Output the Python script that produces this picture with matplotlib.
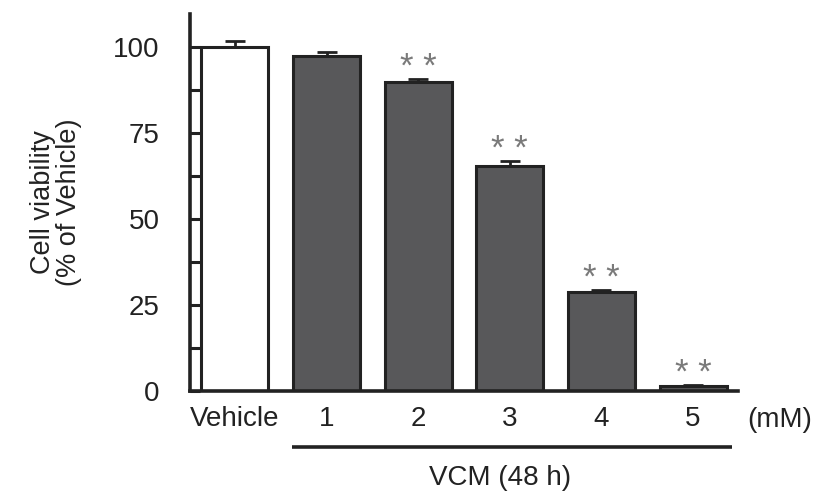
import matplotlib
matplotlib.use('Agg')
import matplotlib.pyplot as plt
from matplotlib.ticker import MultipleLocator

plt.rcParams['font.family'] = ['Liberation Sans', 'DejaVu Sans']

groups = ['Vehicle', '1', '2', '3', '4', '5']
viability = [100.0, 97.4, 89.9, 65.5, 28.9, 1.5]
sem = [1.6, 1.1, 0.9, 1.4, 0.5, 0.3]
significant = [False, False, True, True, True, True]
bar_colors = ['white', '#58585a', '#58585a', '#58585a', '#58585a', '#58585a']

fig = plt.figure(figsize=(8.24, 4.94), dpi=100)
ax = fig.add_axes([0.2306, 0.2085, 0.665, 0.7632])

x = list(range(len(groups)))
ax.bar(x, viability, width=0.73, color=bar_colors, edgecolor='#222222', linewidth=2.2, zorder=2)
ax.errorbar(x, viability, yerr=[[0] * len(sem), sem], fmt='none', ecolor='#222222',
            elinewidth=2, capsize=7, capthick=2, zorder=1)

# significance marks above the error bars
for xi, v, e, s in zip(x, viability, sem, significant):
    if s:
        ax.annotate('* *', (xi, v + e), xytext=(0, 1), textcoords='offset points',
                    ha='center', va='baseline', fontsize=25, color='#7a7a7a')

ax.set_xlim(-0.49, 5.49)
ax.set_ylim(0, 109.6)
ax.yaxis.set_major_locator(MultipleLocator(25))
ax.yaxis.set_minor_locator(MultipleLocator(12.5))
ax.tick_params(axis='y', which='both', direction='in', length=7, width=2.2,
               labelsize=20, colors='#222222', pad=22)
ax.tick_params(axis='x', length=0, labelsize=20, colors='#222222', pad=11)
ax.set_xticks(x)
ax.set_xticklabels(groups)

for side in ['top', 'right']:
    ax.spines[side].set_visible(False)
for side in ['left', 'bottom']:
    ax.spines[side].set_linewidth(2.6)
    ax.spines[side].set_color('#222222')

ax.set_ylabel('Cell viability\n(% of Vehicle)', fontsize=19.5, color='#222222',
              labelpad=22, linespacing=1.0)

trans = ax.get_xaxis_transform()
ax.text(5.95, -0.077, '(mM)', transform=trans, ha='center', va='center',
        fontsize=20, color='#222222', clip_on=False)
ax.plot([0.62, 5.43], [-0.149, -0.149], transform=trans, color='#222222',
        linewidth=2.6, clip_on=False, solid_capstyle='butt')
ax.text(2.89, -0.231, 'VCM (48 h)', transform=trans, ha='center', va='center',
        fontsize=20, color='#222222', clip_on=False)

fig.savefig('out.png', dpi=100)
